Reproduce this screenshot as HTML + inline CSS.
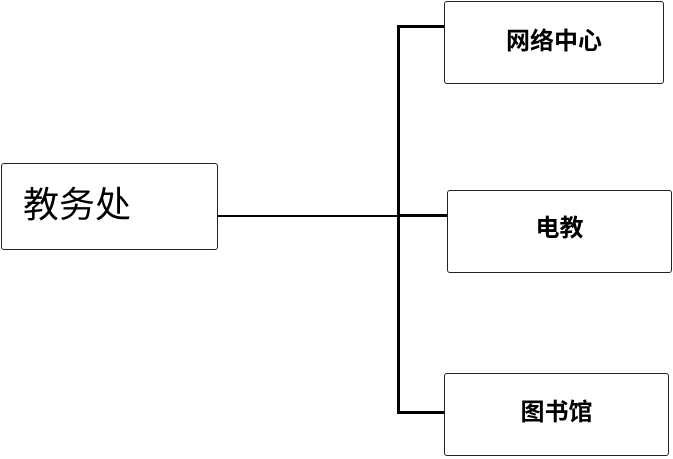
<!DOCTYPE html>
<html><head><style>
body{margin:0;width:673px;height:459px;background:#fff;position:relative;overflow:hidden;font-family:"Liberation Sans","Noto Sans CJK SC",sans-serif}
.b{position:absolute;border:1.5px solid #222;border-radius:3px;box-sizing:border-box;background:#fff;display:flex;align-items:center;justify-content:center;font-weight:bold;font-size:24px;color:#000}
.l{position:absolute;background:#000}
</style></head><body>
<div class="l" style="left:397px;top:25px;width:3px;height:389px"></div>
<div class="l" style="left:397px;top:25px;width:48px;height:3px"></div>
<div class="l" style="left:397px;top:411px;width:48px;height:3px"></div>
<div class="l" style="left:217px;top:215px;width:231px;height:2px"></div>
<div class="l" style="left:397px;top:214px;width:50px;height:3px"></div>
<div class="b" style="left:1px;top:163px;width:217px;height:87px;justify-content:flex-start;padding-left:21px;font-weight:normal;font-size:36px;padding-bottom:10px">教务处</div>
<div class="b" style="left:444px;top:1px;width:220px;height:83px;padding-bottom:8px">网络中心</div>
<div class="b" style="left:447px;top:190px;width:225px;height:83px;padding-bottom:12px">电教</div>
<div class="b" style="left:444px;top:373px;width:225px;height:83px;padding-bottom:10px">图书馆</div>
</body></html>
